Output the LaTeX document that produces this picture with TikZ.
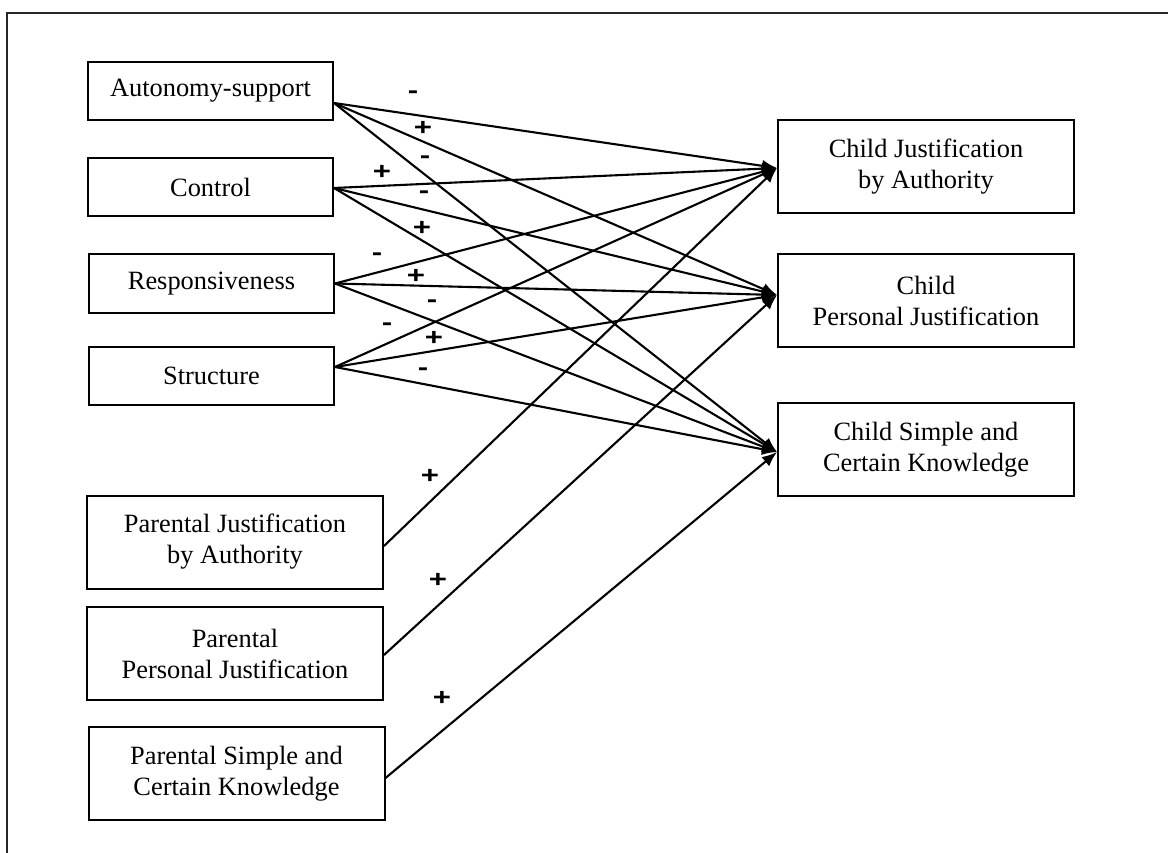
\documentclass[tikz,border=0pt]{standalone}
\usepackage{fontspec}
\setmainfont{Liberation Serif}
\setsansfont{Liberation Sans}
\usetikzlibrary{arrows.meta}
\newcommand{\sgn}[1]{\scalebox{1.3}[1.0]{#1}}
\begin{document}
\begin{tikzpicture}[x=1pt,y=-1pt,
  box/.style={draw,line width=2pt,inner sep=0pt,align=center,
    font=\fontsize{26.4}{31}\selectfont},
  lbox/.style={box,minimum width=245pt,minimum height=58pt},
  pbox/.style={box,minimum width=296pt,minimum height=93pt},
  cbox/.style={box,minimum width=296pt,minimum height=93pt},
  conn/.style={line width=2.1pt,-{Latex[length=15pt,width=12pt]}},
  sg/.style={inner sep=0pt,font=\fontsize{24}{24}\sffamily\bfseries}]
\useasboundingbox (0,0) rectangle (1168,853);
\draw[line width=2.2pt,black!85] (7,870) -- (7,13) -- (1180,13);
% left boxes
\node[lbox] (as) at (210.5,91) {Autonomy-support};
\node[lbox] (co) at (210.5,187) {Control};
\node[lbox] (re) at (211.5,283.5) {Responsiveness};
\node[lbox] (st) at (211.5,376) {Structure};
\node[pbox] (pja) at (235,542) {Parental Justification\\by Authority};
\node[pbox] (ppj) at (235,653.5) {Parental\\Personal Justification};
\node[pbox] (psk) at (236.5,773.5) {Parental Simple and\\Certain Knowledge};
% right boxes
\node[cbox] (cja) at (926,166.5) {Child Justification\\by Authority};
\node[cbox] (cpj) at (926,300.5) {Child\\Personal Justification};
\node[cbox] (csk) at (926,449.5) {Child Simple and\\Certain Knowledge};
% ports
\coordinate (asO) at ([yshift=-12pt]as.east);
\coordinate (coO) at ([yshift=-1pt]co.east);
\coordinate (reO) at (re.east);
\coordinate (stO) at ([yshift=9pt]st.east);
\coordinate (pjaO) at ([yshift=-4pt]pja.east);
\coordinate (ppjO) at ([yshift=-1.5pt]ppj.east);
\coordinate (pskO) at ([yshift=-4.5pt]psk.east);
\coordinate (cjaI) at ([yshift=-1.5pt]cja.west);
\coordinate (cpjI) at ([yshift=5.5pt]cpj.west);
\coordinate (cskI) at ([yshift=-2.5pt]csk.west);
% connectors
\foreach \s in {asO,coO,reO,stO}{
  \draw[conn] (\s) -- (cjaI);
  \draw[conn] (\s) -- (cpjI);
  \draw[conn] (\s) -- (cskI);
}
\draw[conn] (pjaO) -- (cjaI);
\draw[conn] (ppjO) -- (cpjI);
\draw[conn] (pskO) -- (cskI);
% signs
\node[sg] (l1) at (413,95) {\sgn{-}};
\node[sg] (l2) at (423,128) {\sgn{+}};
\node[sg] (l3) at (425,160) {\sgn{-}};
\node[sg] (l4) at (382,172) {\sgn{+}};
\node[sg] (l5) at (424,195) {\sgn{-}};
\node[sg] (l6) at (422,228) {\sgn{+}};
\node[sg] (l7) at (377,257) {\sgn{-}};
\node[sg] (l8) at (416,276) {\sgn{+}};
\node[sg] (l9) at (432,304) {\sgn{-}};
\node[sg] (l10) at (387,327) {\sgn{-}};
\node[sg] (l11) at (434,338) {\sgn{+}};
\node[sg] (l12) at (423,372) {\sgn{-}};
\node[sg] (l13) at (430,476) {\sgn{+}};
\node[sg] (l14) at (438,580) {\sgn{+}};
\node[sg] (l15) at (442,698) {\sgn{+}};
\end{tikzpicture}
\end{document}
